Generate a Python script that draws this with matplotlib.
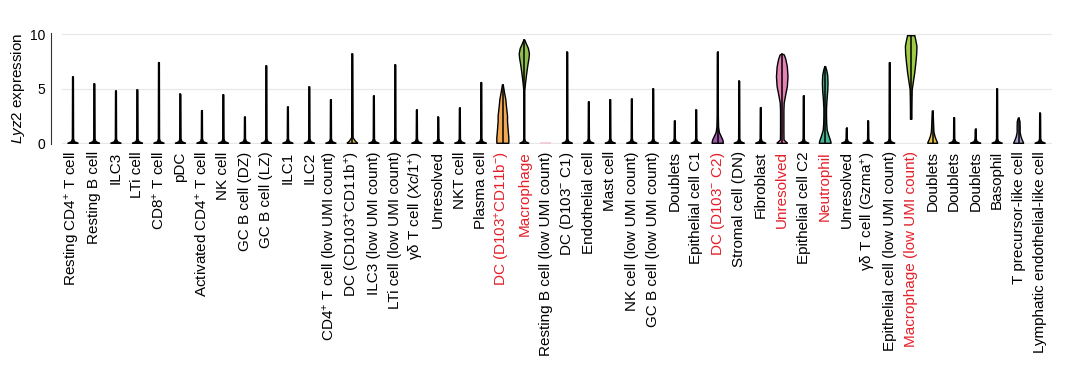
import matplotlib
matplotlib.use("Agg")
import matplotlib.pyplot as plt
import numpy as np

plt.rcParams["font.family"] = ["Liberation Sans", "DejaVu Sans"]
plt.rcParams["mathtext.fontset"] = "custom"
plt.rcParams["mathtext.rm"] = "Liberation Sans"
plt.rcParams["mathtext.it"] = "Liberation Sans:italic"

# cell type labels (x axis)
categories = [
    "Resting CD4$^{+}$ T cell", "Resting B cell", "ILC3", "LTi cell",
    "CD8$^{+}$ T cell", "pDC", "Activated CD4$^{+}$ T cell", "NK cell",
    "GC B cell (DZ)", "GC B cell (LZ)", "ILC1", "ILC2",
    "CD4$^{+}$ T cell (low UMI count)", "DC (CD103$^{+}$CD11b$^{+}$)",
    "ILC3 (low UMI count)", "LTi cell (low UMI count)",
    "γδ T cell ($\\mathit{Xcl1}^{+}$)", "Unresolved", "NKT cell", "Plasma cell",
    "DC (D103$^{+}$CD11b$^{-}$)", "Macrophage",
    "Resting B cell (low UMI count)", "DC (D103$^{-}$ C1)", "Endothelial cell",
    "Mast cell", "NK cell (low UMI count)", "GC B cell (low UMI count)",
    "Doublets", "Epithelial cell C1", "DC (D103$^{-}$ C2)", "Stromal cell (DN)",
    "Fibroblast", "Unresolved", "Epithelial cell C2", "Neutrophil",
    "Unresolved", "γδ T cell (Gzma$^{+}$)", "Epithelial cell (low UMI count)",
    "Macrophage (low UMI count)", "Doublets", "Doublets", "Doublets",
    "Basophil", "T precursor-like cell", "Lymphatic endothelial-like cell",
]
highlighted = [21, 22, 31, 34, 36, 40]  # 1-based, red labels

# Lyz2 expression range per cluster
ymax = [6.1, 5.45, 4.8, 4.9, 7.4, 4.5, 3.0, 4.45, 2.4, 7.1, 3.33, 5.17,
        4.0, 8.2, 4.35, 7.2, 3.06, 2.4, 3.24, 5.57, 5.35, 9.48, 0.0, 8.35,
        3.8, 4.0, 4.05, 5.0, 2.05, 3.06, 8.35, 5.7, 3.27, 8.17, 4.35, 7.03,
        1.38, 2.05, 7.4, 9.87, 2.93, 2.35, 1.28, 5.0, 2.29, 2.75]
ymin = [0.0] * 46
ymin[39] = 2.2

# violin density profiles: level -> relative width
profiles = {
    14: ([0, 0.2, 0.5], [0.9, 0.5, 0.12]),
    21: ([0, 0.5, 1, 1.5, 2, 2.5, 3, 3.5, 4, 4.5, 5],
         [1.0, 1.0, 0.92, 0.85, 0.78, 0.78, 0.68, 0.58, 0.5, 0.33, 0.17]),
    22: ([0, 0.15, 0.4, 4.8, 5.5, 6.5, 7.2, 7.8, 8.2, 8.7, 9.1],
         [0.8, 0.2, 0.08, 0.08, 0.2, 0.42, 0.6, 0.78, 0.85, 0.68, 0.35]),
    31: ([0, 0.3, 0.6, 1.0, 1.5, 2.5], [0.95, 0.85, 0.6, 0.26, 0.14, 0.1]),
    34: ([0, 0.3, 1, 2, 3, 3.7, 4.5, 5.2, 6.1, 7.0, 7.7, 8.1],
         [0.9, 0.3, 0.28, 0.28, 0.28, 0.33, 0.6, 0.85, 0.96, 0.85, 0.6, 0.35]),
    36: ([0, 0.3, 0.7, 1.2, 1.8, 2.5, 3.2, 4.0, 4.8, 5.5, 6.2, 6.7],
         [1.0, 0.85, 0.6, 0.33, 0.25, 0.22, 0.22, 0.3, 0.42, 0.47, 0.42, 0.25]),
    40: ([2.2, 3, 4, 4.9, 5.5, 6.5, 7.5, 8.2, 8.9, 9.5, 9.87],
         [0.12, 0.12, 0.14, 0.17, 0.33, 0.6, 0.8, 0.92, 0.96, 0.75, 0.6]),
    41: ([0, 0.3, 0.6, 1.0, 1.5], [0.85, 0.6, 0.4, 0.22, 0.17]),
    45: ([0, 0.3, 0.6, 1.0, 1.5, 2.0], [0.85, 0.6, 0.4, 0.25, 0.25, 0.22]),
}
fills = {14: "#D8BD5C", 21: "#F2A954", 22: "#8FBF4F", 23: "#F4C6DA",
         31: "#9E58A8", 34: "#E583B5", 36: "#48B292", 40: "#9FCB45",
         41: "#EAC94A", 45: "#A8A0CC"}

default_levels = [0, 0.15, 0.4]
default_widths = [0.9, 0.25, 0.1]
half_max = 0.28  # category units

fig = plt.figure(figsize=(10.9, 3.77), dpi=100)
ax = fig.add_axes([0.0569, 0.617, 0.908, 0.295])

ax.set_xlim(0.49, 46.54)
ax.set_ylim(-0.1, 10.1)
for g in [0, 5, 10]:
    ax.axhline(g, color="#E8E8E8", lw=0.9, zorder=0)

for i in range(46):
    c = i + 1
    top = ymax[i]
    if top <= 0:
        ax.plot([c - 0.25, c + 0.25], [0, 0], color=fills.get(c, "#F4C6DA"),
                lw=1.2, solid_capstyle="butt", zorder=2)
        continue
    lev, wid = profiles.get(c, (default_levels, default_widths))
    lev = list(lev) + [top]
    wid = list(wid) + [0.03 if c not in (34, 40) else 0.0]
    if c == 40:
        wid[-1] = 0.6
        lev = lev + [top]
        wid = wid + [0.0]
    lev = np.array(lev)
    hw = np.array(wid) * half_max
    hw = np.maximum(hw, 0.02)
    xs = np.concatenate([c - hw, (c + hw)[::-1]])
    ys = np.concatenate([lev, lev[::-1]])
    ax.fill(xs, ys, facecolor=fills.get(c, "black"), edgecolor="black",
            lw=1.0, zorder=3)
    ax.plot([c, c], [ymin[i], top], color="black", lw=1.1, zorder=4)

ax.set_yticks([0, 5, 10])
ax.set_yticklabels(["0", "5", "10"], color="#444444", fontsize=8,
                   family="DejaVu Sans")
ax.tick_params(axis="y", length=0, pad=4)
ax.set_ylabel("$\\mathit{Lyz2}$ expression", fontsize=11, labelpad=2)

ax.set_xticks(range(1, 47))
ax.set_xticklabels(categories, rotation=90, fontsize=11)
ax.tick_params(axis="x", length=0, pad=5)
for idx, lab in enumerate(ax.get_xticklabels()):
    if idx + 1 in highlighted:
        lab.set_color("#E4202A")

for s in ["top", "right", "bottom"]:
    ax.spines[s].set_visible(False)
ax.spines["left"].set_position(("outward", 8))
ax.spines["left"].set_color("#333333")
ax.spines["left"].set_linewidth(0.8)

fig.savefig("out.png", dpi=100)
